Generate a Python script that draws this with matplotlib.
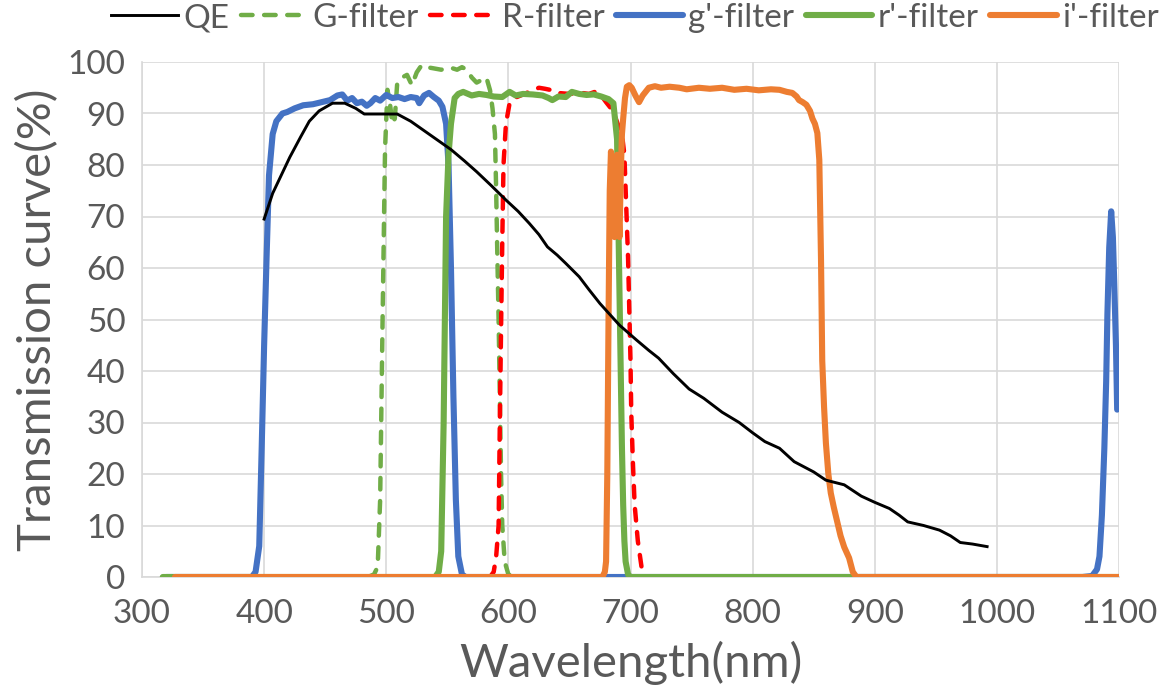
import matplotlib
matplotlib.use("Agg")
import matplotlib.pyplot as plt

plt.rcParams['font.family'] = ['Lato', 'DejaVu Sans']

# ---------------- data ----------------
qe_wl = [400, 407, 414, 421, 430, 437, 445, 456, 466, 475, 482, 509, 520, 535, 553,
         564, 574, 586, 598, 608, 617, 625, 632, 640, 647, 658, 666, 675, 683, 691,
         705, 715, 723, 735, 748, 760, 775, 789, 800, 810, 822, 834, 850, 860, 875,
         889, 900, 912, 920, 927, 940, 953, 962, 970, 980, 992]
qe_val = [69.5, 74.5, 78, 81.5, 85.5, 88.5, 90.5, 92, 92, 91, 89.9, 89.9, 88.5, 86, 83,
          80.8, 78.7, 76, 73.2, 71, 68.7, 66.5, 64.1, 62.5, 60.9, 58.3, 55.8, 53.1, 51, 48.9,
          46, 44, 42.5, 39.5, 36.5, 34.7, 32, 30, 28, 26.3, 25, 22.4, 20.4, 18.8, 17.9,
          15.7, 14.5, 13.3, 12, 10.7, 10, 9.1, 8, 6.7, 6.4, 5.9]

G_wl = [485, 490, 493, 495, 497, 499, 501, 503, 505, 507, 509, 513, 517, 521, 525, 529,
        533, 538, 545, 550, 554, 558, 562, 566, 570, 574, 578, 582, 585, 587, 589, 590,
        591, 592, 593, 594, 595, 597, 600, 603]
G_val = [0, 0.5, 2, 15, 50, 83, 94.6, 92, 88, 89, 96, 97, 97.5, 95.5, 98, 99.4,
         99, 98.8, 98.5, 98.8, 98.8, 98.5, 99, 98.5, 97, 96, 96.5, 97, 94.5, 91, 86, 75,
         62, 50, 35, 20, 10, 3, 0.5, 0]

R_wl = [585, 588, 590, 592, 593, 594, 595, 596, 598, 601, 605, 610, 615, 620, 625, 630,
        634, 640, 650, 660, 666, 672, 676, 680, 684, 688, 691, 693.5, 695, 696.5, 698,
        699, 700, 700.6, 702, 703.4, 706, 709, 712]
R_val = [0, 1, 4, 10, 30, 48, 65, 80, 88, 92, 93, 93.5, 94, 94.5, 95, 94.8,
         94.6, 94, 93.8, 94, 93.8, 94.3, 93.5, 92.2, 91, 89, 87, 85, 82, 72, 62,
         52, 42, 32, 22, 14, 7, 2, 0]

g_wl = [320, 390, 393, 396, 398, 400, 402, 404, 407, 410, 415, 419, 425, 432, 440, 447,
        454, 460, 464, 468, 472, 476, 480, 484, 487, 491, 495, 500, 505, 510, 515, 520,
        525, 527, 531, 535, 539, 543, 546, 549, 551, 553, 555, 557, 559, 562, 565,
        1070, 1078, 1082, 1084, 1086, 1088, 1089.5, 1090.5, 1092, 1093.6, 1095, 1096,
        1097.5, 1098.5]
g_val = [0, 0, 1, 6, 25, 45, 62, 78, 86, 88.5, 90, 90.3, 91, 91.6, 91.8, 92.2,
         92.6, 93.5, 93.7, 92.5, 93, 92, 92.3, 91.5, 92, 93, 92.5, 93.6, 93, 93.2, 92.8, 93.2,
         93, 92, 93.5, 94, 93.2, 92.5, 91.3, 88, 80, 60, 35, 15, 4, 0.5, 0,
         0, 0.2, 1.5, 4, 12, 25, 38, 51, 64, 71, 66, 58,
         45, 32.5]

r_wl = [317, 540, 543, 545, 547, 549, 551, 553, 556, 559, 563, 570, 576, 582, 588, 595,
        601, 606, 612, 620, 628, 633, 636, 641, 647, 652, 658, 664, 670, 676, 682, 686,
        689, 690, 691, 692, 693, 694, 695, 696, 698, 700, 1100]
r_val = [0, 0, 1, 5, 30, 70, 82, 88, 93, 93.8, 94.2, 93.5, 93.8, 93.6, 93.3, 93.2,
         94.2, 93.5, 93.8, 93.7, 93.5, 93, 92.6, 93.3, 93.2, 94.2, 93.8, 93.6, 93.7, 93.3, 92.8, 92,
         85, 70, 55, 40, 25, 14, 7, 3, 0.5, 0, 0]

i_wl = [327, 677, 679, 680, 681, 682, 683, 684, 685, 686, 687, 688, 689, 690, 691, 692,
        693, 694, 695.5, 697, 699, 701, 704, 707, 710, 715, 720, 725, 732, 740, 746, 756,
        765, 775, 785, 795, 805, 815, 822, 828, 832.5, 836, 838, 841, 844, 847, 849, 851,
        853, 854.6, 856, 857, 858.5, 860, 862, 864, 866.5, 869, 872, 875, 879, 882, 885, 1100]
i_val = [0, 0, 1, 3, 20, 50, 75, 82.6, 78, 70, 66, 75, 82, 72, 66, 78,
         86, 89, 93, 95.2, 95.5, 95, 93.5, 92.2, 93.5, 95, 95.3, 95, 95.2, 95, 94.7, 95,
         94.8, 95, 94.6, 94.8, 94.5, 94.7, 94.6, 94.2, 94, 93.3, 92.6, 92.2, 91.7, 90.5, 89, 88,
         86.2, 81, 61.6, 42, 33, 26, 20, 16.3, 13.5, 11, 8, 5.8, 3.7, 1, 0, 0]

labels = ['QE', 'G-filter', 'R-filter', "g'-filter", "r'-filter", "i'-filter"]
x_ticks = [300, 400, 500, 600, 700, 800, 900, 1000, 1100]
y_ticks = [0, 10, 20, 30, 40, 50, 60, 70, 80, 90, 100]

# ---------------- figure ----------------
W, H = 1165, 700
fig = plt.figure(figsize=(W / 100, H / 100), dpi=100)
ax = fig.add_axes([142 / W, 123 / H, 977 / W, 515 / H])

text_col = '#595959'
grid_col = '#D9D9D9'

dash = (0, (2.6, 2.6))
ax.plot(G_wl, G_val, color='#70AD47', lw=3.2, linestyle=dash, dash_capstyle='round', label=labels[1], zorder=3)
ax.plot(R_wl, R_val, color='#FF0000', lw=3.2, linestyle=dash, dash_capstyle='round', label=labels[2], zorder=3)
ax.plot(g_wl, g_val, color='#4472C4', lw=4.4, solid_joinstyle='round', solid_capstyle='round', label=labels[3], zorder=4)
ax.plot(r_wl, r_val, color='#70AD47', lw=4.4, solid_joinstyle='round', solid_capstyle='round', label=labels[4], zorder=5)
ax.plot(i_wl, i_val, color='#ED7D31', lw=4.4, solid_joinstyle='round', solid_capstyle='round', label=labels[5], zorder=6)
ax.plot(qe_wl, qe_val, color='black', lw=2.1, label=labels[0], zorder=7)

ax.set_xlim(300, 1100)
ax.set_ylim(0, 100)
ax.set_xticks(x_ticks)
ax.set_yticks(y_ticks)
ax.grid(True, color=grid_col, lw=1.2)
ax.set_axisbelow(True)
for s in ['top', 'right']:
    ax.spines[s].set_visible(False)
for s in ['left', 'bottom']:
    ax.spines[s].set_color(grid_col)
    ax.spines[s].set_linewidth(1.2)
ax.tick_params(length=0, labelsize=24, colors=text_col)
ax.tick_params(axis='x', pad=16)
ax.tick_params(axis='y', pad=12)
ax.set_xlabel('Wavelength(nm)', fontsize=34, color=text_col, labelpad=8)
ax.set_ylabel('Transmission curve(%)', fontsize=34, color=text_col, labelpad=6)

handles, labs = ax.get_legend_handles_labels()
order = [labs.index(l) for l in labels]
leg = fig.legend([handles[k] for k in order], [labs[k] for k in order],
                 loc='center', bbox_to_anchor=(635 / W, 1 - 18 / H), ncol=6,
                 frameon=False, fontsize=24, handlelength=2.0, handletextpad=0.15,
                 columnspacing=0.35, borderaxespad=0)
for t in leg.get_texts():
    t.set_color(text_col)

fig.savefig('out.png', dpi=100)
